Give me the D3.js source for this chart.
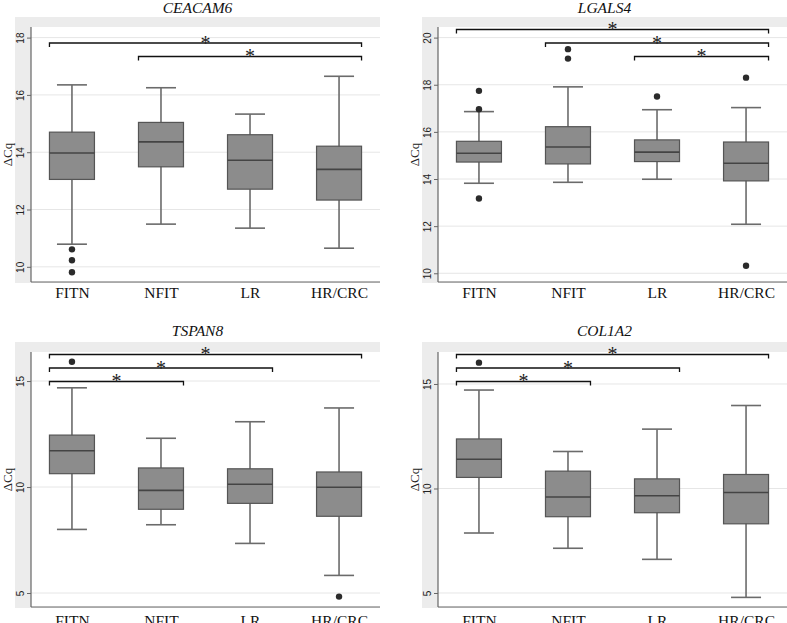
<!DOCTYPE html>
<html>
<head>
<meta charset="utf-8">
<script src="https://cdn.jsdelivr.net/npm/d3@7/dist/d3.min.js"></script>
<style>
  body { margin: 0; background: #fff; }
</style>
</head>
<body>
<div id="chart"></div>
<script>
// ---- data ----
const groups = ["FITN", "NFIT", "LR", "HR/CRC"];
const genes = ["CEACAM6", "LGALS4", "TSPAN8", "COL1A2"];

// per group: [lower whisker, Q1, median, Q3, upper whisker]
const ceacam6Stats = [[10.79, 13.05, 13.97, 14.70, 16.35], [11.49, 13.49, 14.36, 15.04, 16.25],
                      [11.35, 12.71, 13.72, 14.61, 15.33], [10.65, 12.33, 13.40, 14.21, 16.65]];
const lgals4Stats  = [[13.82, 14.72, 15.09, 15.60, 16.86], [13.86, 14.64, 15.36, 16.22, 17.91],
                      [13.99, 14.74, 15.14, 15.66, 16.94], [12.08, 13.92, 14.67, 15.57, 17.03]];
const tspan8Stats  = [[8.00, 10.63, 11.71, 12.45, 14.68], [8.22, 8.95, 9.84, 10.90, 12.30],
                      [7.34, 9.23, 10.13, 10.86, 13.08], [5.83, 8.62, 9.99, 10.71, 13.73]];
const col1a2Stats  = [[7.87, 10.53, 11.40, 12.37, 14.71], [7.14, 8.65, 9.59, 10.83, 11.77],
                      [6.61, 8.84, 9.65, 10.46, 12.84], [4.79, 8.31, 9.81, 10.67, 13.97]];

const ceacam6Outliers = [[10.61, 10.23, 9.81], [], [], []];
const lgals4Outliers  = [[17.74, 16.96, 13.17], [19.51, 19.11], [17.50], [18.30, 10.32]];
const tspan8Outliers  = [[15.91], [], [], [4.83]];
const col1a2Outliers  = [[16.02], [], [], []];

// significance brackets: [from group, to group, row from top]
const ceacam6Sig = [[0, 3, 1], [1, 3, 2]];
const lgals4Sig  = [[0, 3, 0], [1, 3, 1], [2, 3, 2]];
const tspan8Sig  = [[0, 3, 0], [0, 2, 1], [0, 1, 2]];
const col1a2Sig  = [[0, 3, 0], [0, 2, 1], [0, 1, 2]];

const ceacam6Ticks = [10, 12, 14, 16, 18];
const lgals4Ticks  = [10, 12, 14, 16, 18, 20];
const tspan8Ticks  = [5, 10, 15];
const col1a2Ticks  = [5, 10, 15];

const ceacam6Range = [9.47, 18.37];
const lgals4Range  = [9.63, 20.45];
const tspan8Range  = [4.34, 16.37];
const col1a2Range  = [4.33, 16.53];

const panels = [
  {gene: genes[0], stats: ceacam6Stats, out: ceacam6Outliers, sig: ceacam6Sig, ticks: ceacam6Ticks, dom: ceacam6Range},
  {gene: genes[1], stats: lgals4Stats,  out: lgals4Outliers,  sig: lgals4Sig,  ticks: lgals4Ticks,  dom: lgals4Range},
  {gene: genes[2], stats: tspan8Stats,  out: tspan8Outliers,  sig: tspan8Sig,  ticks: tspan8Ticks,  dom: tspan8Range},
  {gene: genes[3], stats: col1a2Stats,  out: col1a2Outliers,  sig: col1a2Sig,  ticks: col1a2Ticks,  dom: col1a2Range}
];

// ---- layout ----
const W = 787, H = 623;
const svg = d3.select("#chart").append("svg")
  .attr("width", W).attr("height", H)
  .style("font-family", "'Liberation Serif', 'Times New Roman', serif");

const pw = {greyL: 15, greyT: 17, left: 31, top: 27, right: 380, bottom: 282};
const boxHalf = 22.5, capHalf = 15;

panels.forEach((p, i) => {
  const dx = (i % 2) * 407, dy = Math.floor(i / 2) * 325;
  const g = svg.append("g").attr("transform", `translate(${dx},${dy})`);

  // backgrounds
  g.append("rect").attr("x", pw.greyL).attr("y", pw.greyT)
    .attr("width", pw.right - pw.greyL).attr("height", pw.bottom + 1 - pw.greyT)
    .attr("fill", "#ececec");
  g.append("rect").attr("x", pw.left).attr("y", pw.top)
    .attr("width", pw.right - pw.left).attr("height", pw.bottom - pw.top)
    .attr("fill", "#fff");

  const x = d3.scalePoint().domain(groups).range([pw.left, pw.right]).padding(0.46);
  const y = d3.scaleLinear().domain(p.dom).range([pw.bottom, pw.top]);

  // grid
  g.selectAll(".grid").data(p.ticks).enter().append("line")
    .attr("x1", pw.left).attr("x2", pw.right)
    .attr("y1", d => y(d)).attr("y2", d => y(d))
    .attr("stroke", "#e6e6e6").attr("stroke-width", 1);

  // y axis
  const ya = g.append("g").attr("transform", `translate(${pw.left},0)`)
    .call(d3.axisLeft(y).tickValues(p.ticks).tickSize(4).tickFormat(d3.format("d")));
  ya.select(".domain").attr("d", `M0,${pw.top}V${pw.bottom}`).attr("stroke", "#666").attr("stroke-width", 1.2);
  ya.selectAll(".tick line").attr("stroke", "#666");
  ya.selectAll(".tick text")
    .attr("x", 0).attr("dy", 0)
    .attr("transform", "translate(-7,0) rotate(-90)")
    .attr("text-anchor", "middle")
    .style("font-family", "'Liberation Sans', Arial, sans-serif")
    .style("font-size", "10px").attr("fill", "#222");

  // x axis
  const xa = g.append("g").attr("transform", `translate(0,${pw.bottom})`)
    .call(d3.axisBottom(x).tickSize(0));
  xa.select(".domain").attr("d", `M${pw.left},0H${pw.right}`).attr("stroke", "#666").attr("stroke-width", 1.2);
  xa.selectAll(".tick text")
    .attr("y", i < 2 ? 16 : 19).attr("dy", 0)
    .style("font-family", "'Liberation Serif', 'Times New Roman', serif")
    .style("font-size", "15.5px").attr("fill", "#111");

  // y label
  g.append("text")
    .attr("transform", `translate(12,${(pw.top + pw.bottom) / 2}) rotate(-90)`)
    .attr("text-anchor", "middle")
    .style("font-size", "13px").attr("fill", "#222")
    .text("\u0394Cq");

  // title
  g.append("text")
    .attr("x", (pw.greyL + pw.right) / 2).attr("y", i < 2 ? 12.5 : 11)
    .attr("text-anchor", "middle")
    .style("font-style", "italic").style("font-size", "15.5px").attr("fill", "#111")
    .text(p.gene);

  // boxes
  const bx = g.selectAll(".bx").data(p.stats).enter().append("g")
    .attr("transform", (d, k) => `translate(${x(groups[k])},0)`);

  bx.append("line")
    .attr("x1", 0).attr("x2", 0)
    .attr("y1", d => y(d[0])).attr("y2", d => y(d[4]))
    .attr("stroke", "#6b6b6b").attr("stroke-width", 1.6);
  bx.append("line")
    .attr("x1", -capHalf).attr("x2", capHalf)
    .attr("y1", d => y(d[4])).attr("y2", d => y(d[4]))
    .attr("stroke", "#6b6b6b").attr("stroke-width", 1.6);
  bx.append("line")
    .attr("x1", -capHalf).attr("x2", capHalf)
    .attr("y1", d => y(d[0])).attr("y2", d => y(d[0]))
    .attr("stroke", "#6b6b6b").attr("stroke-width", 1.6);
  bx.append("rect")
    .attr("x", -boxHalf).attr("width", 2 * boxHalf)
    .attr("y", d => y(d[3])).attr("height", d => y(d[1]) - y(d[3]))
    .attr("fill", "#8c8c8c").attr("stroke", "#555").attr("stroke-width", 1.2);
  bx.append("line")
    .attr("x1", -boxHalf).attr("x2", boxHalf)
    .attr("y1", d => y(d[2])).attr("y2", d => y(d[2]))
    .attr("stroke", "#444").attr("stroke-width", 1.6);

  // outliers
  p.out.forEach((vals, k) => {
    g.selectAll(null).data(vals).enter().append("circle")
      .attr("cx", x(groups[k])).attr("cy", d => y(d))
      .attr("r", 3.2).attr("fill", "#2b2b2b");
  });

  // significance brackets
  p.sig.forEach(([a, b, row]) => {
    const x1 = x(groups[a]) - boxHalf, x2 = x(groups[b]) + boxHalf;
    const ly = 29.5 + row * 13.5;
    g.append("path")
      .attr("d", `M${x1},${ly + 4}V${ly}H${x2}V${ly + 4}`)
      .attr("fill", "none").attr("stroke", "#111").attr("stroke-width", 1.3);
    g.append("text")
      .attr("x", (x1 + x2) / 2).attr("y", ly + 6.5)
      .attr("text-anchor", "middle")
      .style("font-size", "20px").attr("fill", "#222")
      .text("*");
  });
});
</script>
</body>
</html>
